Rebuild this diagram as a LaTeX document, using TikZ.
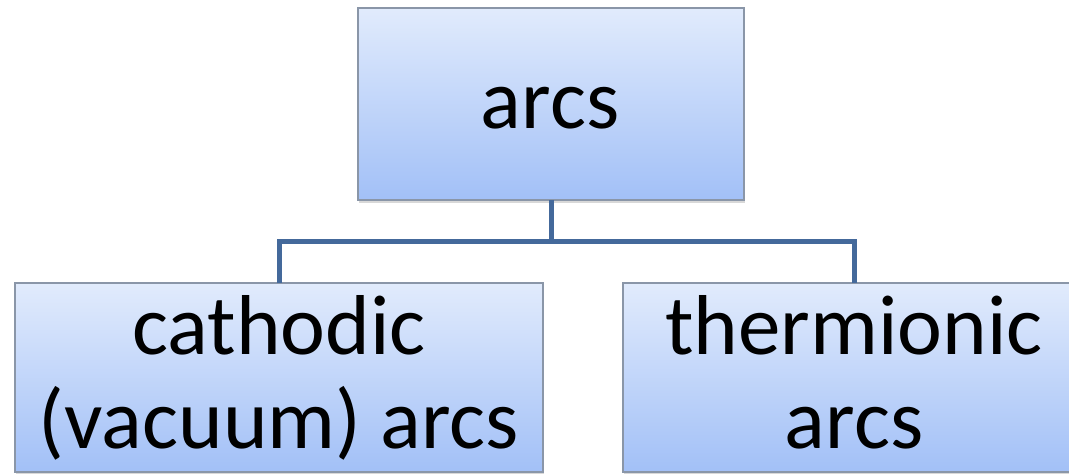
\documentclass[tikz,border=0pt]{standalone}
\usepackage{fontspec}
\setmainfont{Carlito}
\usetikzlibrary{shadows}
\definecolor{boxtop}{HTML}{E1EBFC}
\definecolor{boxbot}{HTML}{A2C0F7}
\definecolor{boxline}{HTML}{8A96A8}
\definecolor{conn}{HTML}{44699B}
\begin{document}
\begin{tikzpicture}[x=1pt,y=-1pt,
  box/.style={draw=boxline, line width=1.5pt, top color=boxtop, bottom color=boxbot,
    inner sep=0pt, outer sep=0pt, anchor=north west,
    drop shadow={shadow xshift=1pt, shadow yshift=-2.5pt, opacity=0.3}},
  lbl/.style={anchor=base, font=\fontsize{85}{94}\selectfont, inner sep=0pt},
  link/.style={draw=conn, line width=5pt}]
\fill[white] (0,0) rectangle (1069,474);
\useasboundingbox (0,0) rectangle (1069,474);
\clip (0,0) rectangle (1069,474);
\node[box, minimum width=386pt, minimum height=192pt] (top) at (358,8) {};
\node[box, minimum width=528pt, minimum height=189pt] (left) at (15,283) {};
\node[box, minimum width=462pt, minimum height=189pt] (right) at (623,283) {};
\coordinate (j) at (550,241);
\draw[link] (top.south) -- (top.south |- j);
\draw[link] (left.north) |- (j) -| (right.north);
\node[lbl] (t0) at (550,128) {arcs};
\node[lbl] (t1) at (279,354) {cathodic};
\node[lbl] (t2) at (279,448) {(vacuum) arcs};
\node[lbl] (t3) at (854,354) {thermionic};
\node[lbl] (t4) at (854,448) {arcs};
\end{tikzpicture}
\end{document}
